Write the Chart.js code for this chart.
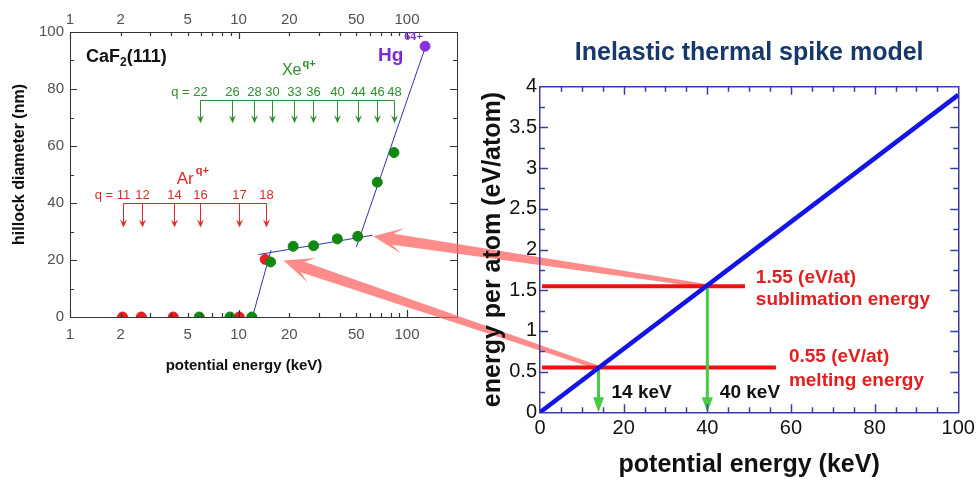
<!DOCTYPE html>
<html>
<head>
<meta charset="utf-8">
<script src="https://cdn.jsdelivr.net/npm/chart.js@4.4.1/dist/chart.umd.min.js"></script>
<style>
html,body{margin:0;padding:0;background:#fff}
#wrap{position:relative;width:977px;height:482px}
#wrap canvas{position:absolute;left:0;top:0}
</style>
</head>
<body>
<div id="wrap">
<canvas id="hillock" width="977" height="482"></canvas>
<canvas id="spike" width="977" height="482"></canvas>
</div>
<script>
// left panel: hillock diameter vs potential energy (log axis)
const arEnergy = [2.05, 2.65, 4.1, 10.1, 14.4]
const arDiameter = [0, 0, 0, 0, 20.2]
const xeEnergy = [5.85, 8.9, 12.0, 15.5, 21.1, 27.9, 38.6, 51, 66.6, 83.7]
const xeDiameter = [0, 0, 0, 19.3, 24.8, 25.0, 27.4, 28.3, 47.3, 57.7]
const hgEnergy = [128]
const hgDiameter = [95]

// fitted lines, start and end
const fitSteepE = [12.1, 15.6]
const fitSteepD = [0, 23.5]
const fitPlateauE = [13.1, 62.5]
const fitPlateauD = [21.9, 28.7]
const fitHighE = [50, 129]
const fitHighD = [24.5, 95]

// charge states and their potential energies
const xeQ = ['22','26','28','30','33','36','40','44','46','48']
const xeArrowE = [5.9, 9.1, 12.4, 15.7, 21.4, 27.6, 38.6, 51, 66.6, 83.7]
const arQ = ['11','12','14','16','17','18']
const arArrowE = [2.05, 2.66, 4.13, 5.91, 10.0, 14.5]

const logLabels = [1, 2, 5, 10, 20, 50, 100]
const logMajor = [1, 10, 100]
const logMinor = [2, 3, 4, 5, 6, 7, 8, 9, 20, 30, 40, 50, 60, 70, 80, 90]
const diamMajor = [20, 40, 60, 80]
const diamMinor = [10, 30, 50, 70, 90]

// right panel: inelastic thermal spike model
const modelE = [0, 100]
const modelEpa = [0, 3.9]
const levelEpa = [0.55, 1.55]
const levelStartE = [0.5, 0.5]
const levelEndE = [56.4, 49]
const thresholdE = [14, 40]
// where the pink arrows land in the left panel
const linkE = [18.5, 63]
const linkD = [19.8, 28.3]

const keVMinor = [5, 10, 15, 25, 30, 35, 45, 50, 55, 65, 70, 75, 85, 90, 95]
const keVMajor = [20, 40, 60, 80]
const epaMinor = [0.25, 0.75, 1.25, 1.75, 2.25, 2.75, 3.25, 3.75]
const epaMajor = [0.5, 1, 1.5, 2, 2.5, 3, 3.5]

const FONT = '"Liberation Sans", Arial, sans-serif'
Chart.defaults.font.family = FONT

const leftAxis = '#333'
const rightAxis = '#3c3ca8'

function pts(xs, ys){
return xs.map((x,i)=>({x:x, y:ys[i]}))
}

// inward tick marks along one side of the plot box
function tickMarks(chart, id, side, values, len, color, width){
const s = chart.scales[id], a = chart.chartArea, ctx = chart.ctx
ctx.save()
ctx.strokeStyle = color
ctx.lineWidth = width
ctx.beginPath()
for(const v of values){
const p = Math.round(s.getPixelForValue(v)) + 0.5
if(side === 'bottom'){ ctx.moveTo(p, a.bottom); ctx.lineTo(p, a.bottom - len) }
else if(side === 'top'){ ctx.moveTo(p, a.top); ctx.lineTo(p, a.top + len) }
else if(side === 'left'){ ctx.moveTo(a.left, p); ctx.lineTo(a.left + len, p) }
else { ctx.moveTo(a.right, p); ctx.lineTo(a.right - len, p) }
}
ctx.stroke()
ctx.restore()
}

function qArrows(chart, energies, labels, barD, tipD, labelD, color){
const ctx = chart.ctx, sx = chart.scales.x, sy = chart.scales.y
const yBar = Math.round(sy.getPixelForValue(barD)) + 0.5
const yTip = sy.getPixelForValue(tipD)
const yLab = sy.getPixelForValue(labelD)
const xs = energies.map(e => Math.round(sx.getPixelForValue(e)) + 0.5)
ctx.save()
ctx.strokeStyle = color
ctx.fillStyle = color
ctx.lineWidth = 1
ctx.beginPath()
ctx.moveTo(xs[0], yBar)
ctx.lineTo(xs[xs.length-1], yBar)
xs.forEach(x=>{ ctx.moveTo(x, yBar); ctx.lineTo(x, yTip - 4) })
ctx.stroke()
xs.forEach(x=>{
ctx.beginPath()
ctx.moveTo(x - 3.5, yTip - 8)
ctx.lineTo(x, yTip - 5)
ctx.lineTo(x + 3.5, yTip - 8)
ctx.lineTo(x, yTip)
ctx.closePath()
ctx.fill()
})
ctx.font = '13px ' + FONT
ctx.textAlign = 'center'
ctx.textBaseline = 'middle'
labels.forEach((q,i)=> ctx.fillText(q, xs[i], yLab))
ctx.textAlign = 'right'
ctx.fillText('q = ', xs[0] - ctx.measureText(labels[0]).width/2, yLab)
ctx.restore()
}

// base text followed by a raised (or lowered) smaller part
function richText(ctx, x, y, parts, color){
ctx.save()
ctx.fillStyle = color
ctx.textAlign = 'left'
ctx.textBaseline = 'middle'
parts.forEach(p=>{
ctx.font = p.font
ctx.fillText(p.t, x, y + (p.dy || 0))
x += ctx.measureText(p.t).width + (p.gap || 0)
})
ctx.restore()
}

const hillockDecor = {
id:'hillockDecor',
afterDraw(chart){
const ctx = chart.ctx, sx = chart.scales.x, sy = chart.scales.y, a = chart.chartArea

tickMarks(chart, 'x', 'bottom', logMajor, 7, leftAxis, 1.2)
tickMarks(chart, 'x', 'bottom', logMinor, 4, leftAxis, 1.2)
tickMarks(chart, 'x2', 'top', logMajor, 7, leftAxis, 1.2)
tickMarks(chart, 'x2', 'top', logMinor, 4, leftAxis, 1.2)
tickMarks(chart, 'y', 'left', diamMajor, 7, leftAxis, 1.2)
tickMarks(chart, 'y', 'left', diamMinor, 4, leftAxis, 1.2)
tickMarks(chart, 'y2', 'right', diamMajor, 7, leftAxis, 1.2)
tickMarks(chart, 'y2', 'right', diamMinor, 4, leftAxis, 1.2)

qArrows(chart, xeArrowE, xeQ, 76, 68, 78.8, '#2f8f2f')
qArrows(chart, arArrowE, arQ, 40, 31.4, 42.5, '#e02a2a')

richText(ctx, sx.getPixelForValue(1.245), sy.getPixelForValue(91.2), [
{t:'CaF', font:'bold 18px ' + FONT},
{t:'2', font:'bold 12px ' + FONT, dy:6},
{t:'(111)', font:'bold 18px ' + FONT}
], '#111')

richText(ctx, sx.getPixelForValue(18.1), sy.getPixelForValue(86.3), [
{t:'Xe', font:'16px ' + FONT, gap:1},
{t:'q+', font:'bold 11px ' + FONT, dy:-7}
], '#2f8f2f')

richText(ctx, sx.getPixelForValue(4.3), sy.getPixelForValue(48.4), [
{t:'Ar', font:'17px ' + FONT, gap:2},
{t:'q+', font:'bold 11px ' + FONT, dy:-8}
], '#e02a2a')

richText(ctx, sx.getPixelForValue(67.3), sy.getPixelForValue(91.8), [
{t:'Hg', font:'bold 19px ' + FONT, gap:1},
{t:'64+', font:'bold 12px "Liberation Serif", serif', dy:-18}
], '#7a2ad8')

// axis titles
ctx.save()
ctx.fillStyle = '#111'
ctx.textAlign = 'center'
ctx.textBaseline = 'middle'
ctx.font = 'bold 15px ' + FONT
ctx.fillText('potential energy (keV)', a.left + 174, 366)
ctx.translate(20, (a.top + a.bottom)/2 - 10)
ctx.rotate(-Math.PI/2)
ctx.font = 'bold 16px ' + FONT
ctx.fillText('hillock diameter (nm)', 0, 0)
ctx.restore()
}
}

const leftTickFont = {size:15}
const noGrid = {display:false, drawTicks:false}

const hillock = new Chart(document.getElementById('hillock'), {
type:'scatter',
data:{
datasets:[
{label:'Hg', data:pts(hgEnergy, hgDiameter), pointRadius:5, backgroundColor:'#8833dd', borderColor:'#8833dd'},
{label:'Xe', data:pts(xeEnergy, xeDiameter), pointRadius:5, backgroundColor:'#118811', borderColor:'#118811'},
{label:'Ar', data:pts(arEnergy, arDiameter), pointRadius:5, backgroundColor:'#ee1c1c', borderColor:'#ee1c1c'},
{data:pts(fitSteepE, fitSteepD), showLine:true, pointRadius:0, borderColor:'#3333aa', borderWidth:1},
{data:pts(fitPlateauE, fitPlateauD), showLine:true, pointRadius:0, borderColor:'#3333aa', borderWidth:1},
{data:pts(fitHighE, fitHighD), showLine:true, pointRadius:0, borderColor:'#3333aa', borderWidth:1}
]
},
options:{
responsive:false,
animation:false,
events:[],
layout:{padding:{left:0, top:0, right:507, bottom:82}},
plugins:{legend:{display:false}, tooltip:{enabled:false}},
scales:{
x:{
type:'logarithmic', position:'bottom', min:1, max:198,
afterBuildTicks: s => { s.ticks = logLabels.map(v => ({value:v})) },
ticks:{callback: v => String(v), autoSkip:false, maxRotation:0, padding:8.5, color:'#505050', font:leftTickFont},
grid:noGrid,
border:{color:leftAxis, width:1},
afterFit: s => { s.height = 83 }
},
x2:{
type:'logarithmic', position:'top', min:1, max:198,
afterBuildTicks: s => { s.ticks = logLabels.map(v => ({value:v})) },
ticks:{callback: v => String(v), autoSkip:false, maxRotation:0, padding:3, color:'#505050', font:leftTickFont},
grid:noGrid,
border:{color:leftAxis, width:1},
afterFit: s => { s.height = 32 }
},
y:{
type:'linear', position:'left', min:0, max:100,
ticks:{stepSize:20, padding:6, color:'#505050', font:leftTickFont},
grid:noGrid,
border:{color:leftAxis, width:1},
afterFit: s => { s.width = 70 }
},
y2:{
type:'linear', position:'right', min:0, max:100,
ticks:{display:false},
grid:noGrid,
border:{color:leftAxis, width:1},
afterFit: s => { s.width = 13 }
}
}
},
plugins:[hillockDecor]
})

function pinkArrow(ctx, tx, ty, px, py){
const dx = tx - px, dy = ty - py, d = Math.hypot(dx, dy)
const ux = dx/d, uy = dy/d, nx = -uy, ny = ux
const L = 30, W = 13, N = 10, sw = 11, tw = 4
const p = [
[px, py],
[px + ux*L + nx*W, py + uy*L + ny*W],
[px + ux*(L-N) + nx*sw/2, py + uy*(L-N) + ny*sw/2],
[tx + nx*tw/2, ty + ny*tw/2],
[tx - nx*tw/2, ty - ny*tw/2],
[px + ux*(L-N) - nx*sw/2, py + uy*(L-N) - ny*sw/2],
[px + ux*L - nx*W, py + uy*L - ny*W]
]
ctx.beginPath()
p.forEach((q,i)=> i ? ctx.lineTo(q[0], q[1]) : ctx.moveTo(q[0], q[1]))
ctx.closePath()
ctx.fill()
}

const spikeDecor = {
id:'spikeDecor',
beforeDraw(chart){
// links from the energy thresholds back to the hillock data
const ctx = chart.ctx
const lx = hillock.scales.x, ly = hillock.scales.y
const rx = chart.scales.x, ry = chart.scales.y
ctx.save()
ctx.fillStyle = 'rgba(255,100,100,0.75)'
thresholdE.forEach((e,i)=>{
pinkArrow(ctx, rx.getPixelForValue(e), ry.getPixelForValue(levelEpa[i]), lx.getPixelForValue(linkE[i]), ly.getPixelForValue(linkD[i]))
})
ctx.restore()
},
afterDatasetDraw(chart, args){
// green arrows go between the red levels and the blue model line
if(args.index !== 1) return
const ctx = chart.ctx, rx = chart.scales.x, ry = chart.scales.y
ctx.save()
ctx.strokeStyle = '#44cc44'
ctx.fillStyle = '#44cc44'
ctx.lineWidth = 3
thresholdE.forEach((e,i)=>{
const x = rx.getPixelForValue(e)
const y0 = ry.getPixelForValue(levelEpa[i]) + 2
const y1 = ry.getPixelForValue(0)
ctx.beginPath()
ctx.moveTo(x, y0)
ctx.lineTo(x, y1 - 12)
ctx.stroke()
ctx.beginPath()
ctx.moveTo(x - 5.5, y1 - 15)
ctx.lineTo(x + 5.5, y1 - 15)
ctx.lineTo(x, y1)
ctx.closePath()
ctx.fill()
})
ctx.restore()
},
afterDraw(chart){
const ctx = chart.ctx, rx = chart.scales.x, ry = chart.scales.y
tickMarks(chart, 'x', 'bottom', keVMajor, 8, rightAxis, 1.5)
tickMarks(chart, 'x', 'bottom', keVMinor, 5, rightAxis, 1.5)
tickMarks(chart, 'x2', 'top', keVMajor, 8, rightAxis, 1.5)
tickMarks(chart, 'x2', 'top', keVMinor, 5, rightAxis, 1.5)
tickMarks(chart, 'y', 'left', epaMajor, 8, rightAxis, 1.5)
tickMarks(chart, 'y', 'left', epaMinor, 5, rightAxis, 1.5)
tickMarks(chart, 'y2', 'right', epaMajor, 8, rightAxis, 1.5)
tickMarks(chart, 'y2', 'right', epaMinor, 5, rightAxis, 1.5)

ctx.save()
ctx.textAlign = 'left'
ctx.textBaseline = 'middle'
ctx.font = 'bold 19px ' + FONT
ctx.fillStyle = '#e41e1e'
ctx.fillText('1.55 (eV/at)', rx.getPixelForValue(51.6), ry.getPixelForValue(1.65))
ctx.fillText('sublimation energy', rx.getPixelForValue(51.6), ry.getPixelForValue(1.38))
ctx.fillText('0.55 (eV/at)', rx.getPixelForValue(59.5), ry.getPixelForValue(0.683))
ctx.fillText('melting energy', rx.getPixelForValue(59.5), ry.getPixelForValue(0.388))
ctx.fillStyle = '#111'
ctx.fillText(thresholdE[0] + ' keV', rx.getPixelForValue(17.1), ry.getPixelForValue(0.24))
ctx.fillText(thresholdE[1] + ' keV', rx.getPixelForValue(43.0), ry.getPixelForValue(0.24))
ctx.restore()
}
}

const spike = new Chart(document.getElementById('spike'), {
type:'scatter',
data:{
datasets:[
{label:'model', data:pts(modelE, modelEpa), showLine:true, pointRadius:0, borderColor:'#1414e6', borderWidth:4.5},
{label:'melting', data:[{x:levelStartE[0], y:levelEpa[0]}, {x:levelEndE[0], y:levelEpa[0]}], showLine:true, pointRadius:0, borderColor:'#ee1111', borderWidth:4},
{label:'sublimation', data:[{x:levelStartE[1], y:levelEpa[1]}, {x:levelEndE[1], y:levelEpa[1]}], showLine:true, pointRadius:0, borderColor:'#ee1111', borderWidth:4}
]
},
options:{
responsive:false,
animation:false,
events:[],
layout:{padding:{left:470, top:0, right:0, bottom:0}},
plugins:{
legend:{display:false},
tooltip:{enabled:false},
title:{
display:true, fullSize:false,
text:'Inelastic thermal spike model',
color:'#17386b',
font:{size:25, weight:'bold', lineHeight:1.2},
padding:{top:38, bottom:8}
}
},
scales:{
x:{
type:'linear', position:'bottom', min:0, max:100,
ticks:{stepSize:20, padding:0, maxRotation:0, color:'#111', font:{size:20, lineHeight:1.6}},
grid:noGrid,
border:{color:rightAxis, width:1.5},
title:{display:true, text:'potential energy (keV)', color:'#111', font:{size:25, weight:'bold', lineHeight:1.2}, padding:{top:0, bottom:2}},
afterFit: s => { s.height = 69.7 }
},
x2:{
type:'linear', position:'top', min:0, max:100,
ticks:{display:false},
grid:noGrid,
border:{color:rightAxis, width:1.5},
afterFit: s => { s.height = 10.7 }
},
y:{
type:'linear', position:'left', min:0, max:4,
ticks:{stepSize:0.5, padding:3, color:'#111', font:{size:20}, callback: v => String(v)},
grid:noGrid,
border:{color:rightAxis, width:1.5},
title:{display:true, text:'energy per atom (eV/atom)', color:'#111', font:{size:25, weight:'bold', lineHeight:1.2}, padding:{top:8, bottom:0}},
afterFit: s => { s.width = 70 }
},
y2:{
type:'linear', position:'right', min:0, max:4,
ticks:{display:false},
grid:noGrid,
border:{color:rightAxis, width:1.5},
afterFit: s => { s.width = 18.7 }
}
}
},
plugins:[spikeDecor]
})
</script>
</body>
</html>
